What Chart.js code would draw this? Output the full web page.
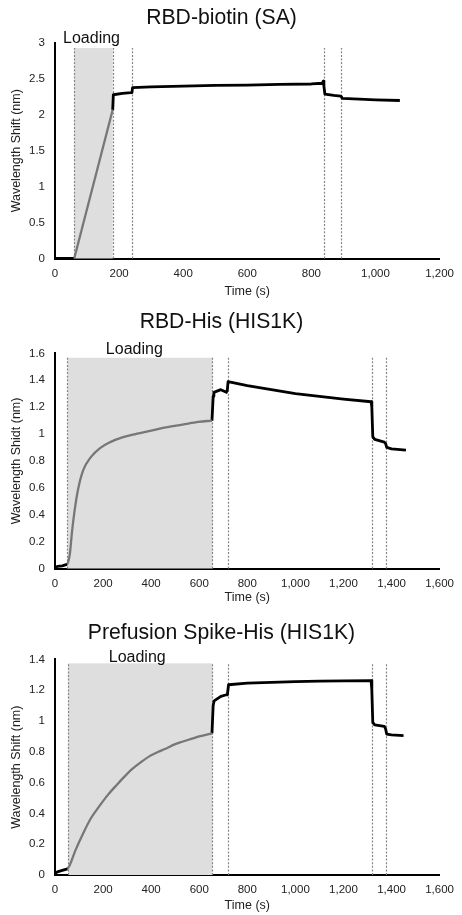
<!DOCTYPE html>
<html>
<head>
<meta charset="utf-8">
<script src="https://cdn.jsdelivr.net/npm/chart.js@4.4.1/dist/chart.umd.min.js"></script>
<style>
  body { margin: 0; background: #fff; width: 462px; height: 915px; position: relative; overflow: hidden; }
  .box { position: absolute; left: 0; width: 462px; }
</style>
</head>
<body>
<div class="box" style="top:0px;height:300px"><canvas id="chart1"></canvas></div>
<div class="box" style="top:300px;height:306px"><canvas id="chart2"></canvas></div>
<div class="box" style="top:605px;height:310px"><canvas id="chart3"></canvas></div>
<script>
// ---- RBD-biotin (SA) ----
const saBaseTime = [0, 30, 58];
const saBaseShift = [0, 0, 0];
const saLoadTime = [60, 180];
const saLoadShift = [0, 2.07];
const saRestTime = [180, 182, 210, 237, 240, 242, 300, 400, 500, 600, 700, 800, 834, 837, 839, 842, 870, 891, 894, 896, 950, 1000, 1076];
const saRestShift = [2.07, 2.28, 2.30, 2.31, 2.31, 2.38, 2.39, 2.40, 2.41, 2.415, 2.425, 2.43, 2.44, 2.47, 2.40, 2.29, 2.27, 2.26, 2.25, 2.23, 2.22, 2.21, 2.20];
const saSteps = [60, 180, 240, 840, 893];

// ---- RBD-His (HIS1K) ----
const rbdBaseTime = [0, 10, 30, 50];
const rbdBaseShift = [0.01, 0.015, 0.02, 0.03];
const rbdLoadTime = [50, 55, 62, 70, 80, 95, 117, 150, 186, 230, 280, 323, 400, 460, 530, 597, 653];
const rbdLoadShift = [0.03, 0.05, 0.11, 0.26, 0.41, 0.58, 0.73, 0.83, 0.894, 0.94, 0.975, 0.995, 1.025, 1.05, 1.07, 1.09, 1.10];
const rbdRestTime = [653, 658, 661, 690, 713, 717, 720, 800, 900, 1000, 1100, 1200, 1315, 1318, 1322, 1330, 1370, 1375, 1380, 1400, 1460];
const rbdRestShift = [1.10, 1.28, 1.31, 1.33, 1.31, 1.33, 1.39, 1.36, 1.33, 1.30, 1.28, 1.26, 1.24, 1.20, 0.98, 0.96, 0.94, 0.93, 0.90, 0.89, 0.88];
const rbdSteps = [52, 655, 718, 1320, 1378];

// ---- Prefusion Spike-His (HIS1K) ----
const spkBaseTime = [0, 10, 30, 52];
const spkBaseShift = [0.01, 0.02, 0.03, 0.04];
const spkLoadTime = [52, 60, 85, 117, 150, 186, 220, 254, 290, 323, 360, 392, 430, 460, 500, 529, 570, 600, 653];
const spkLoadShift = [0.04, 0.06, 0.16, 0.27, 0.37, 0.45, 0.52, 0.58, 0.64, 0.69, 0.735, 0.77, 0.80, 0.82, 0.85, 0.865, 0.885, 0.90, 0.92];
const spkRestTime = [653, 658, 662, 690, 713, 717, 722, 800, 900, 1000, 1100, 1200, 1315, 1318, 1322, 1330, 1370, 1375, 1380, 1400, 1450];
const spkRestShift = [0.92, 1.10, 1.13, 1.16, 1.17, 1.17, 1.235, 1.245, 1.25, 1.255, 1.258, 1.26, 1.262, 1.20, 0.99, 0.975, 0.965, 0.95, 0.915, 0.91, 0.905];
const spkSteps = [55, 655, 720, 1320, 1378];

const FONT = 'Liberation Sans, Arial, sans-serif';

function pts(xs, ys) {
    return xs.map((x, i) => ({ x: x, y: ys[i] }));
}

function fmt(v) {
    return Number(v.toFixed(2)).toLocaleString('en-US');
}

// shaded loading window, dashed step markers and the "Loading" label
const stepsPlugin = {
    id: 'steps',
    beforeDatasetsDraw(chart, args, opts) {
        const { ctx, chartArea, scales } = chart;
        const xs = scales.x, ys = scales.y;
        const top = ys.getPixelForValue(opts.top);
        const bottom = chartArea.bottom;
        ctx.save();
        const x0 = xs.getPixelForValue(opts.steps[0]);
        const x1 = xs.getPixelForValue(opts.steps[1]);
        ctx.fillStyle = '#dedede';
        ctx.fillRect(x0, top, x1 - x0, bottom - top);
        ctx.strokeStyle = '#858585';
        ctx.lineWidth = 1.2;
        ctx.setLineDash([2, 1.6]);
        opts.steps.forEach(s => {
            const px = Math.round(xs.getPixelForValue(s)) + 0.5;
            ctx.beginPath();
            ctx.moveTo(px, bottom);
            ctx.lineTo(px, top);
            ctx.stroke();
        });
        ctx.setLineDash([]);
        ctx.fillStyle = '#111';
        ctx.font = '16px ' + FONT;
        ctx.textAlign = 'center';
        ctx.textBaseline = 'middle';
        ctx.fillText('Loading', xs.getPixelForValue(opts.labelX), top - opts.labelGap);
        ctx.restore();
    }
};

function makeChart(id, cfg) {
    new Chart(document.getElementById(id), {
        type: 'scatter',
        data: {
            datasets: [
                { data: pts(cfg.baseT, cfg.baseY), borderColor: '#000', borderWidth: 2.8 },
                { data: pts(cfg.loadT, cfg.loadY), borderColor: '#777', borderWidth: 2.3, cubicInterpolationMode: 'monotone' },
                { data: pts(cfg.restT, cfg.restY), borderColor: '#000', borderWidth: 2.8 }
            ]
        },
        options: {
            responsive: true,
            maintainAspectRatio: false,
            animation: false,
            showLine: true,
            elements: { point: { radius: 0, hoverRadius: 0 }, line: { borderJoinStyle: 'round' } },
            layout: { padding: { left: 0, right: 19, top: 0, bottom: cfg.padBottom } },
            plugins: {
                legend: { display: false },
                tooltip: { enabled: false },
                title: {
                    display: true,
                    text: cfg.title,
                    color: '#111',
                    font: { family: FONT, size: 21.2, weight: 'normal' },
                    padding: { top: cfg.titleTop, bottom: cfg.titleBottom }
                },
                steps: { steps: cfg.steps, top: cfg.shadeTop, labelX: cfg.labelX, labelGap: cfg.labelGap }
            },
            scales: {
                x: {
                    type: 'linear',
                    min: 0,
                    max: cfg.xMax,
                    grid: { display: false, drawTicks: false },
                    border: { color: '#000', width: 2 },
                    ticks: { stepSize: 200, padding: 8, color: '#222', font: { family: FONT, size: 11.5 }, callback: fmt, maxRotation: 0 },
                    title: { display: true, text: 'Time (s)', color: '#222', font: { family: FONT, size: 12.5 }, padding: { top: 0, bottom: 0 } },
                    afterFit(scale) { scale.height = cfg.xAxisH; }
                },
                y: {
                    min: 0,
                    max: cfg.yMax,
                    grid: { display: false, drawTicks: false },
                    border: { color: '#000', width: 2 },
                    ticks: { stepSize: cfg.yStep, padding: 10, color: '#222', font: { family: FONT, size: 11.5 }, callback: fmt },
                    title: { display: true, text: cfg.yTitle, color: '#222', font: { family: FONT, size: 12.5 }, padding: { top: 9.5, bottom: 0 } },
                    afterFit(scale) { scale.width = 55; }
                }
            }
        },
        plugins: [stepsPlugin]
    });
}

makeChart('chart1', {
    title: 'RBD-biotin (SA)', yTitle: 'Wavelength Shift (nm)',
    baseT: saBaseTime, baseY: saBaseShift, loadT: saLoadTime, loadY: saLoadShift, restT: saRestTime, restY: saRestShift,
    steps: saSteps, shadeTop: 2.93, labelX: 114, labelGap: 9,
    xMax: 1200, yMax: 3, yStep: 0.5,
    titleTop: 5.3, titleBottom: 12.3, padBottom: 0.5, xAxisH: 41
});

makeChart('chart2', {
    title: 'RBD-His (HIS1K)', yTitle: 'Wavelength Shidt (nm)',
    baseT: rbdBaseTime, baseY: rbdBaseShift, loadT: rbdLoadTime, loadY: rbdLoadShift, restT: rbdRestTime, restY: rbdRestShift,
    steps: rbdSteps, shadeTop: 1.567, labelX: 330, labelGap: 8.5,
    xMax: 1600, yMax: 1.6, yStep: 0.2,
    titleTop: 9.3, titleBottom: 18.6, padBottom: 0.5, xAxisH: 37
});

makeChart('chart3', {
    title: 'Prefusion Spike-His (HIS1K)', yTitle: 'Wavelength Shift (nm)',
    baseT: spkBaseTime, baseY: spkBaseShift, loadT: spkLoadTime, loadY: spkLoadShift, restT: spkRestTime, restY: spkRestShift,
    steps: spkSteps, shadeTop: 1.374, labelX: 342, labelGap: 6,
    xMax: 1600, yMax: 1.4, yStep: 0.2,
    titleTop: 15.3, titleBottom: 13.6, padBottom: 1.5, xAxisH: 38.5
});
</script>
</body>
</html>
